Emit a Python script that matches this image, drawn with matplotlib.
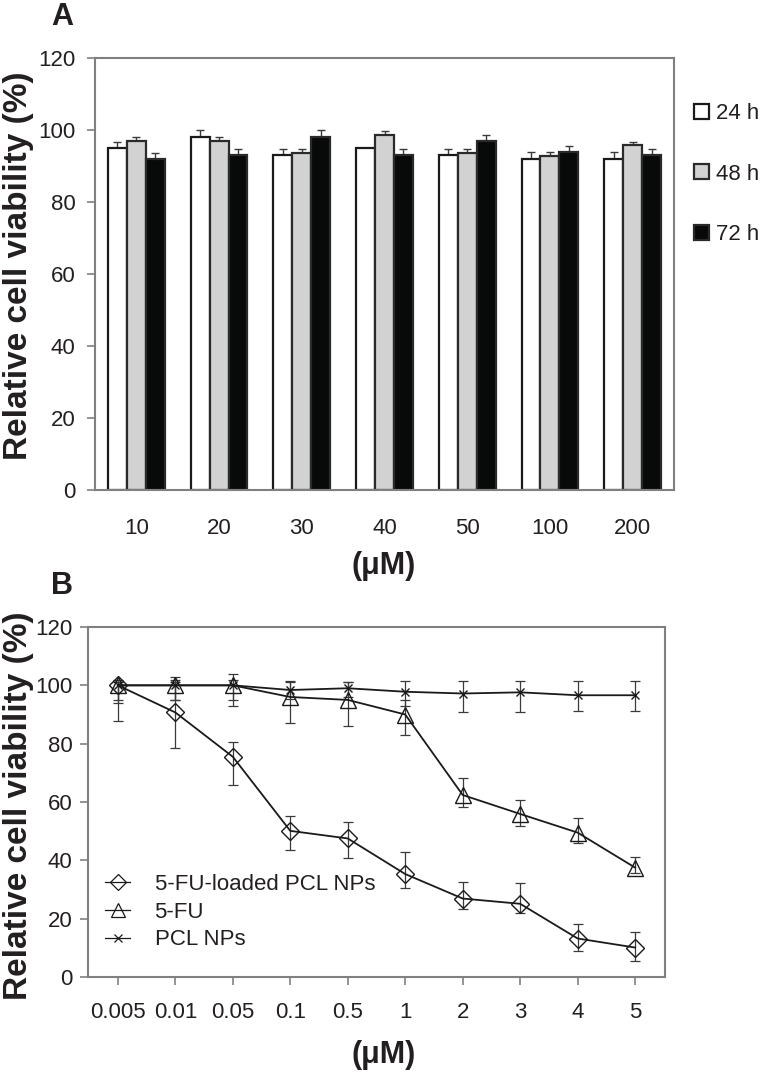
import matplotlib
matplotlib.use('Agg')
import matplotlib.pyplot as plt
import numpy as np
from matplotlib.lines import Line2D

plt.rcParams['font.family'] = ['Liberation Sans', 'DejaVu Sans']

# ---------------- Panel A data ----------------
conc_a = ['10', '20', '30', '40', '50', '100', '200']
series_a = ['24 h', '48 h', '72 h']
v24 = [95, 98, 93, 95, 93, 92, 92]
e24 = [1.7, 2.0, 1.8, 0.0, 1.8, 1.8, 1.8]
v48 = [97, 97, 93.7, 98.5, 93.7, 92.8, 95.8]
e48 = [1.0, 1.0, 1.0, 1.3, 1.0, 1.0, 1.0]
v72 = [92, 93, 98, 93, 97, 94, 93]
e72 = [1.7, 1.7, 2.0, 1.8, 1.7, 1.6, 1.7]

# ---------------- Panel B data ----------------
conc_b = ['0.005', '0.01', '0.05', '0.1', '0.5', '1', '2', '3', '4', '5']
series_b = ['5-FU-loaded PCL NPs', '5-FU', 'PCL NPs']
loaded = [100, 90.7, 75.5, 50.1, 47.5, 35.3, 26.9, 25.1, 13.2, 10.1]
loaded_lo = [12.3, 12.1, 9.6, 6.5, 6.6, 4.9, 3.5, 3.3, 4.2, 4.5]
loaded_up = [1.0, 11.0, 5.2, 5.2, 5.8, 7.7, 5.8, 7.2, 4.9, 5.3]
fu = [100, 100, 100, 96, 95, 90, 62.4, 55.9, 49.5, 37.5]
fu_lo = [6, 5, 7, 9, 9, 7, 4.2, 4.1, 3.4, 1.7]
fu_up = [2, 3, 4, 5, 6, 5, 5.9, 4.9, 4.9, 3.8]
pcl = [100, 100, 100, 98.4, 99, 97.8, 97.2, 97.6, 96.6, 96.6]
pcl_lo = [5, 5, 5, 3, 3, 5, 6.3, 6.7, 5.3, 5.3]
pcl_up = [1, 1, 2, 3, 2, 3.7, 4.3, 3.9, 4.9, 4.9]

W, H = 762, 1075
fig = plt.figure(figsize=(W / 100, H / 100), dpi=100)


def box(x0, y0, x1, y1):
    return [x0 / W, 1 - y1 / H, (x1 - x0) / W, (y1 - y0) / H]


spine_c = '#808080'
txt_c = '#231f20'
err_c = '#3a3a3a'

# ---------------- Panel A ----------------
axA = fig.add_axes(box(95, 58, 674, 490))
x = np.arange(len(conc_a))
w = 0.229
styles = [('white', '#1a1a1a'), ('#d2d2d2', '#2a2a2a'), ('#080a0a', '#2a2a2a')]
handles_a = []
for k, (vals, errs) in enumerate([(v24, e24), (v48, e48), (v72, e72)]):
    xs = x + (k - 1) * w
    fc, ec = styles[k]
    axA.errorbar(xs, vals, yerr=[np.zeros(len(vals)), errs], fmt='none',
                 ecolor=err_c, elinewidth=1.0, capsize=3, capthick=1.0, zorder=1)
    b = axA.bar(xs, vals, w, color=fc, edgecolor=ec, linewidth=1.6,
                label=series_a[k], zorder=2)
    handles_a.append(b)

axA.set_xlim(-0.5, 6.5)
axA.set_ylim(0, 120)
axA.set_yticks(np.arange(0, 121, 20))
axA.set_xticks(x)
axA.set_xticklabels(conc_a)
axA.tick_params(axis='x', length=0, pad=20, labelsize=16, labelcolor=txt_c)
axA.tick_params(axis='y', length=6, width=1.2, color=spine_c, pad=8,
                labelsize=16, labelcolor=txt_c)
for s in axA.spines.values():
    s.set_color(spine_c)
    s.set_linewidth(1.5)

fig.legend(handles_a, series_a, loc='upper left',
           bbox_to_anchor=(694 / W, 1 - 103 / H), frameon=False,
           fontsize=16, borderpad=0, borderaxespad=0,
           handlelength=0.68, handleheight=0.68, handletextpad=0.3,
           labelspacing=1.78, labelcolor=txt_c)

# ---------------- Panel B ----------------
axB = fig.add_axes(box(88, 627, 665, 977))
xb = np.arange(len(conc_b))
markers = ['D', '^', 'x']
msizes = [9, 11, 6]
line_c = '#1a1a1a'
data_b = [(loaded, loaded_lo, loaded_up), (fu, fu_lo, fu_up), (pcl, pcl_lo, pcl_up)]
handles_b = []
for k, (vals, lo, up) in enumerate(data_b):
    axB.errorbar(xb, vals, yerr=[lo, up], fmt='none', ecolor=err_c,
                 elinewidth=0.9, capsize=3.5, capthick=0.9, zorder=2)
    axB.plot(xb, vals, color=line_c, lw=1.3, marker=markers[k], ms=msizes[k],
             mfc='none', mec=line_c, mew=1.0, zorder=3)
    handles_b.append(Line2D([], [], color=line_c, lw=0.9, marker=markers[k],
                            ms=msizes[k] * 0.9, mfc='none', mec=line_c, mew=0.9))

axB.set_xlim(-0.52, 9.52)
axB.set_ylim(0, 120)
axB.set_yticks(np.arange(0, 121, 20))
axB.set_xticks(xb)
axB.set_xticklabels(conc_b)
axB.tick_params(axis='x', length=6, width=1.2, color=spine_c, pad=12,
                labelsize=16, labelcolor=txt_c)
axB.tick_params(axis='y', length=6, width=1.2, color=spine_c, pad=5,
                labelsize=16, labelcolor=txt_c)
for s in axB.spines.values():
    s.set_color(spine_c)
    s.set_linewidth(1.5)

fig.legend(handles_b, series_b, loc='upper left',
           bbox_to_anchor=(105 / W, 1 - 874 / H), frameon=False,
           fontsize=16, borderpad=0, borderaxespad=0,
           handlelength=1.13, handletextpad=1.1, labelspacing=0.3,
           labelcolor=txt_c)

# ---------------- Labels ----------------
lab = 'Relative cell viability (%)'
fig.text(19 / W, 1 - 266 / H, lab, rotation=90, ha='center', va='center',
         fontsize=24, fontweight='bold', color=txt_c)
fig.text(19 / W, 1 - 806 / H, lab, rotation=90, ha='center', va='center',
         fontsize=24, fontweight='bold', color=txt_c)
fig.text(384 / W, 1 - 566 / H, '(μM)', ha='center', va='center',
         fontsize=22, fontweight='bold', color=txt_c)
fig.text(384 / W, 1 - 1055 / H, '(μM)', ha='center', va='center',
         fontsize=22, fontweight='bold', color=txt_c)
fig.text(62 / W, 1 - 17 / H, 'A', ha='center', va='center',
         fontsize=22, fontweight='bold', color=txt_c)
fig.text(62 / W, 1 - 586 / H, 'B', ha='center', va='center',
         fontsize=22, fontweight='bold', color=txt_c)

fig.savefig('out.png', dpi=100, facecolor='white')
